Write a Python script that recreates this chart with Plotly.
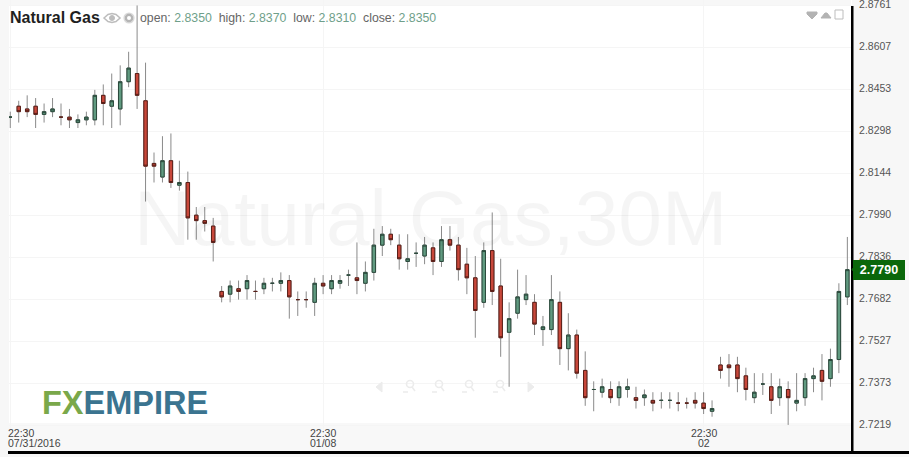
import plotly.graph_objects as go

opens = [2.835,2.839,2.838,2.839,2.836,2.837,2.835,2.835,2.833,2.834,2.834,2.843,2.839,2.838,2.848,
         2.851,2.841,2.818,2.813,2.819,2.810,2.811,2.799,2.797,2.795,2.771,2.770,2.772,2.772,2.771,
         2.772,2.774,2.774,2.775,2.768,2.768,2.767,2.774,2.772,2.774,2.777,2.776,2.774,2.778,2.788,
         2.792,2.788,2.782,2.785,2.784,2.787,2.782,2.790,2.788,2.781,2.776,2.767,2.786,2.773,2.756,
         2.763,2.768,2.767,2.757,2.757,2.767,2.750,2.755,2.742,2.735,2.734,2.735,2.732,2.735,2.732,
         2.732,2.731,2.731,2.731,2.730,2.730,2.731,2.730,2.727,2.744,2.744,2.744,2.740,2.732,2.737,
         2.736,2.732,2.735,2.730,2.732,2.739,2.742,2.739,2.746,2.769]
highs = [2.837,2.841,2.843,2.842,2.840,2.842,2.840,2.838,2.836,2.837,2.845,2.847,2.851,2.854,2.859,
         2.876,2.855,2.822,2.828,2.829,2.819,2.815,2.802,2.802,2.798,2.773,2.775,2.775,2.777,2.775,
         2.776,2.776,2.778,2.777,2.771,2.771,2.776,2.777,2.777,2.777,2.779,2.789,2.782,2.794,2.795,
         2.794,2.792,2.792,2.789,2.791,2.789,2.795,2.795,2.791,2.787,2.784,2.789,2.800,2.783,2.767,
         2.779,2.777,2.770,2.762,2.777,2.771,2.763,2.757,2.749,2.738,2.739,2.738,2.738,2.739,2.736,
         2.735,2.734,2.734,2.734,2.734,2.732,2.734,2.734,2.731,2.747,2.748,2.747,2.743,2.741,2.741,
         2.741,2.739,2.738,2.741,2.741,2.743,2.748,2.750,2.774,2.791]
lows = [2.831,2.833,2.835,2.831,2.833,2.835,2.832,2.831,2.831,2.832,2.832,2.832,2.831,2.832,2.846,
        2.838,2.804,2.811,2.811,2.809,2.808,2.790,2.790,2.793,2.782,2.767,2.767,2.768,2.768,2.768,
        2.770,2.771,2.771,2.761,2.762,2.765,2.762,2.770,2.770,2.772,2.773,2.770,2.771,2.775,2.784,
        2.788,2.779,2.779,2.780,2.781,2.777,2.780,2.786,2.775,2.770,2.754,2.765,2.766,2.747,2.736,
        2.761,2.766,2.755,2.751,2.755,2.744,2.742,2.739,2.729,2.727,2.732,2.730,2.729,2.732,2.728,
        2.729,2.727,2.728,2.728,2.727,2.728,2.728,2.726,2.725,2.739,2.736,2.734,2.731,2.730,2.733,
        2.726,2.729,2.722,2.727,2.729,2.734,2.731,2.736,2.741,2.766]
closes = [2.835,2.837,2.837,2.836,2.837,2.838,2.835,2.834,2.834,2.835,2.843,2.840,2.841,2.848,2.853,
          2.843,2.817,2.817,2.819,2.811,2.811,2.798,2.797,2.796,2.789,2.769,2.773,2.771,2.775,2.771,
          2.774,2.774,2.775,2.769,2.768,2.768,2.774,2.773,2.775,2.775,2.777,2.775,2.778,2.788,2.792,
          2.790,2.783,2.783,2.785,2.788,2.782,2.790,2.788,2.779,2.776,2.764,2.786,2.771,2.754,2.761,
          2.769,2.770,2.759,2.758,2.768,2.750,2.755,2.741,2.732,2.735,2.736,2.732,2.736,2.736,2.731,
          2.733,2.730,2.731,2.731,2.730,2.730,2.730,2.728,2.728,2.742,2.743,2.739,2.735,2.734,2.737,
          2.731,2.736,2.732,2.731,2.739,2.740,2.738,2.746,2.771,2.779]

y_ticks = [2.8761,2.8607,2.8453,2.8298,2.8144,2.7990,2.7836,2.7682,2.7527,2.7373,2.7219]
x_ticks = [0,37,82]
x_time_labels = ["22:30","22:30","22:30"]
x_date_labels = ["07/31/2016","01/08","02"]
header_title = "Natural Gas"
watermark = "Natural Gas,30M"
last_price = 2.779
ohlc_labels = ["open","high","low","close"]
ohlc_values = ["2.8350","2.8370","2.8310","2.8350"]

W,H = 909,457
L,R,T,B = 9,57,0,5
PW,PH = W-L-R, H-T-B
def px(x): return (x-L)/PW
def py(y): return 1-(y-T)/PH

GREEN,RED = "#609a80","#c8473a"
DGREEN,DRED = "#2b4a3c","#5a1f18"
idx = list(range(len(opens)))

fig = go.Figure()
fig.add_trace(go.Candlestick(x=idx,open=opens,high=highs,low=lows,close=closes,
    increasing=dict(line=dict(color="#8a8a8a",width=1),fillcolor=GREEN),
    decreasing=dict(line=dict(color="#8a8a8a",width=1),fillcolor=RED),
    hoverinfo="skip",showlegend=False))
fig.add_trace(go.Candlestick(x=idx,open=opens,close=closes,
    high=[max(a,b) for a,b in zip(opens,closes)],
    low=[min(a,b) for a,b in zip(opens,closes)],
    increasing=dict(line=dict(color=DGREEN,width=1),fillcolor=GREEN),
    decreasing=dict(line=dict(color=DRED,width=1),fillcolor=RED),
    hoverinfo="skip",showlegend=False))

shapes=[]
def rect(x0,y0,x1,y1,fill,layer="above",line=None):
    shapes.append(dict(type="rect",xref="paper",yref="paper",x0=px(x0),x1=px(x1),y0=py(y0),y1=py(y1),
        fillcolor=fill,line=dict(width=0) if line is None else line,layer=layer))
rect(9,0,851,6,"#f7f7f7","below")
rect(9,423,851,452,"#f8f8f8","below")
rect(8,451,909,454,"#000000")
rect(851,6,853.5,454,"#000000")

def path(d,fill=None,color="#bdbdbd",w=1):
    shapes.append(dict(type="path",xref="paper",yref="paper",path=d,
        fillcolor=fill if fill else "rgba(0,0,0,0)",line=dict(color=color,width=w),layer="above"))
def pts(seq,close=True):
    return "M "+" L ".join(f"{px(a)} {py(b)}" for a,b in seq)+(" Z" if close else "")
def circle(cx,cy,r,fill=None,color="#bdbdbd",w=1):
    shapes.append(dict(type="circle",xref="paper",yref="paper",x0=px(cx-r),x1=px(cx+r),y0=py(cy-r),y1=py(cy+r),
        fillcolor=fill if fill else "rgba(0,0,0,0)",line=dict(color=color,width=w),layer="above"))
# eye
path(pts([(104,18),(108,14.5),(112,13.5),(116,14.5),(120,18),(116,21.5),(112,22.5),(108,21.5)]),None,"#bdbdbd",1.5)
circle(112,18,2.5,"#bdbdbd")
# gear
circle(129,18,3.2,None,"#b5b5b5",2.4)
circle(129,18,5,None,"rgba(181,181,181,0.5)",1.2)
# top right icons
path(pts([(807,12),(817,12),(817,14),(812,19),(807,14)]),"#b3b3b3","#b3b3b3")
path(pts([(821,18),(825,13),(827,13),(831,18)]),"#b3b3b3","#b3b3b3")
shapes.append(dict(type="rect",xref="paper",yref="paper",x0=px(835),x1=px(843),y0=py(19),y1=py(10),
    line=dict(color="#bdbdbd",width=1),fillcolor="#ffffff",layer="above"))
# navigation icons
NAV="#ececec"
path(pts([(382,382),(376,387),(382,392)]),NAV,NAV)
path(pts([(528,382),(534,387),(528,392)]),NAV,NAV)
for cx in (410,439,469,500):
    circle(cx,384,3.5,None,NAV,1.6)
    path(pts([(cx+2,387),(cx+5,391)],False),None,NAV,1.6)
    path(pts([(cx-7,392),(cx-2,392)],False),None,NAV,1.6)
# price tag pointer
path(pts([(855,266),(852,269.5),(855,273)]),"#0a670a","#0a670a")

ann=[]
FONT="Liberation Sans, Arial, sans-serif"
for i,t,d in zip(x_ticks,x_time_labels,x_date_labels):
    anc="left" if i==0 else "center"
    xs=-4 if i==0 else 0
    ann.append(dict(x=i,xref="x",y=py(432.5),yref="paper",text=t,showarrow=False,xanchor=anc,xshift=xs,yanchor="middle",
        font=dict(family=FONT,size=10.5,color="#444444")))
    ann.append(dict(x=i,xref="x",y=py(442.8),yref="paper",text=d,showarrow=False,xanchor=anc,xshift=xs,yanchor="middle",
        font=dict(family=FONT,size=10.5,color="#444444")))
ann.append(dict(x=px(430),y=py(218),xref="paper",yref="paper",text=watermark,showarrow=False,yanchor="middle",
    font=dict(family=FONT,size=78.5,color="rgba(0,0,0,0.04)")))
ann.append(dict(x=px(10),y=py(17.5),xref="paper",yref="paper",text=f"<b>{header_title}</b>",showarrow=False,
    xanchor="left",yanchor="middle",xshift=-2,font=dict(family=FONT,size=16,color="#1f1f1f")))
hdr="&nbsp;&nbsp;".join(f"<span style='color:#666666'>{a}:</span> <span style='color:#6f9f8a'>{b}</span>" for a,b in zip(ohlc_labels,ohlc_values))
ann.append(dict(x=px(140),y=py(18.5),xref="paper",yref="paper",text=hdr,showarrow=False,xanchor="left",yanchor="middle",xshift=-2,
    font=dict(family=FONT,size=12.3,color="#666666")))
ann.append(dict(x=px(42),y=py(403),xref="paper",yref="paper",
    text="<b><span style='color:#7aa84a'>FX</span><span style='color:#3b7490'>EMPIRE</span></b>",showarrow=False,xanchor="left",yanchor="middle",xshift=-2,
    font=dict(family=FONT,size=32.5)))
ann.append(dict(x=px(855),y=last_price,xref="paper",yref="y",text=f"<b>{last_price:.4f}</b>",showarrow=False,xanchor="left",yanchor="middle",
    xshift=-2,width=46,height=14,align="center",bgcolor="#0a670a",borderpad=2,bordercolor="#0a670a",
    font=dict(family=FONT,size=12.5,color="#ffffff")))
ann.append(dict(x=px(859),y=y_ticks[0],xref="paper",yref="y",text=f"{y_ticks[0]:.4f}",showarrow=False,xanchor="left",yanchor="middle",xshift=-2,yshift=1,
    font=dict(family=FONT,size=10.5,color="#555555")))

fig.update_layout(width=W,height=H,autosize=False,margin=dict(l=L,r=R,t=T,b=B,pad=0),
    paper_bgcolor="#f7f7f7",plot_bgcolor="#ffffff",boxgap=0.42,showlegend=False,
    shapes=shapes,annotations=ann,dragmode=False,
    xaxis=dict(range=[-0.15,99.55],tickvals=x_ticks,showticklabels=False,showgrid=True,gridcolor="#f5f5f5",gridwidth=1,
        zeroline=False,showline=False,rangeslider=dict(visible=False),ticks=""),
    yaxis=dict(range=[2.71205,2.878],side="right",tickvals=y_ticks,ticktext=[f"{v:.4f}" for v in y_ticks],
        showgrid=True,gridcolor="#f5f5f5",gridwidth=1,zeroline=False,showline=False,ticks="outside",ticklen=4,tickcolor="rgba(0,0,0,0)",
        ticklabelshift=-1,tickfont=dict(family=FONT,size=10.5,color="#555555")))
fig.write_html("out.html",config=dict(displayModeBar=False),post_script="document.body.style.margin='0';")
